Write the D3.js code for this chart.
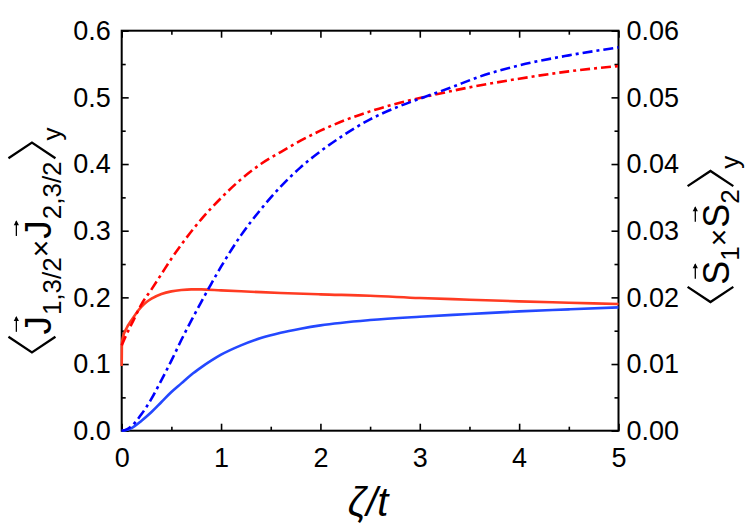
<!DOCTYPE html>
<html><head><meta charset="utf-8">
<script src="https://cdn.jsdelivr.net/npm/d3@7"></script>
<style>body{margin:0;background:#fff}svg{display:block}</style></head>
<body><svg id="c" width="747" height="528"></svg>
<script>
// ---- data ----
const xTicks = [0, 1, 2, 3, 4, 5];
const leftTicks = [0, 0.1, 0.2, 0.3, 0.4, 0.5, 0.6];
const rightTicks = [0, 0.01, 0.02, 0.03, 0.04, 0.05, 0.06];

// <J1 x J2>_y  (left axis), dash-dot lines
const redDashX = [0, 0.05, 0.1, 0.2, 0.3, 0.4, 0.5, 0.6, 0.8, 1.0, 1.2, 1.4, 1.6, 1.8, 2.0, 2.2, 2.5, 2.8, 3.0, 3.5, 4.0, 4.5, 5.0];
const redDashY = [0.128, 0.145, 0.16, 0.19, 0.212, 0.235, 0.258, 0.279, 0.317, 0.349, 0.377, 0.40, 0.418, 0.435, 0.45, 0.463, 0.479, 0.492, 0.499, 0.515, 0.528, 0.539, 0.547];
const blueDashX = [0, 0.05, 0.1, 0.2, 0.3, 0.4, 0.5, 0.6, 0.7, 0.8, 0.9, 1.0, 1.2, 1.4, 1.6, 1.8, 2.0, 2.2, 2.5, 2.8, 3.0, 3.3, 3.6, 4.0, 4.5, 5.0];
const blueDashY = [0, 0.002, 0.007, 0.025, 0.048, 0.076, 0.105, 0.136, 0.165, 0.193, 0.22, 0.246, 0.293, 0.332, 0.366, 0.395, 0.419, 0.44, 0.467, 0.487, 0.498, 0.514, 0.531, 0.548, 0.563, 0.575];

// <S1 x S2>_y  (right axis), solid lines
const redSolidX = [0, 0.002, 0.01, 0.05, 0.1, 0.15, 0.2, 0.25, 0.3, 0.4, 0.5, 0.6, 0.7, 0.8, 1.0, 1.3, 1.6, 2.0, 2.5, 3.0, 3.5, 4.0, 4.5, 5.0];
const redSolidY = [0.0097, 0.013, 0.0139, 0.0154, 0.0166, 0.0177, 0.0186, 0.0193, 0.0198, 0.0205, 0.0209, 0.0211, 0.0212, 0.0212, 0.02105, 0.02085, 0.02065, 0.02045, 0.02025, 0.0199, 0.01965, 0.0194, 0.0192, 0.0190];
const blueSolidX = [0, 0.05, 0.1, 0.2, 0.3, 0.4, 0.5, 0.6, 0.7, 0.8, 0.9, 1.0, 1.2, 1.4, 1.6, 1.8, 2.0, 2.5, 3.0, 3.5, 4.0, 4.5, 5.0];
const blueSolidY = [0, 0.0001, 0.0004, 0.0015, 0.0028, 0.0043, 0.0058, 0.0071, 0.0084, 0.0095, 0.0105, 0.0114, 0.0128, 0.0139, 0.0147, 0.0153, 0.0158, 0.0166, 0.0171, 0.0175, 0.0179, 0.0182, 0.0185];

// ---- layout ----
const L = 121.7, R = 618.5, T = 30.7, B = 430.7;
const FONT = "'Liberation Sans', Arial, sans-serif";
const svg = d3.select("#c");

const x = d3.scaleLinear().domain([0, 5]).range([L, R]);
const yL = d3.scaleLinear().domain([0, 0.6]).range([B, T]);
const yR = d3.scaleLinear().domain([0, 0.06]).range([B, T]);

function styleAxis(g) {
  g.select(".domain").remove();
  g.selectAll("line").attr("stroke", "#000").attr("stroke-width", 1.6);
  g.selectAll("text").attr("font-family", FONT).attr("font-size", 27).attr("fill", "#000");
}

const xMinor = d3.range(0.5, 5, 1);
const yLMinor = d3.range(0.05, 0.6, 0.1);
const yRMinor = d3.range(0.005, 0.06, 0.01);

// bottom
svg.append("g").attr("transform", `translate(0,${B})`)
  .call(d3.axisBottom(x).tickValues(xTicks).tickSize(-7).tickSizeOuter(0).tickPadding(17).tickFormat(d3.format("d")))
  .call(styleAxis);
svg.append("g").attr("transform", `translate(0,${B})`)
  .call(d3.axisBottom(x).tickValues(xMinor).tickSize(-4).tickSizeOuter(0).tickFormat(""))
  .call(styleAxis);
// top
svg.append("g").attr("transform", `translate(0,${T})`)
  .call(d3.axisTop(x).tickValues(xTicks).tickSize(-7).tickSizeOuter(0).tickFormat(""))
  .call(styleAxis);
svg.append("g").attr("transform", `translate(0,${T})`)
  .call(d3.axisTop(x).tickValues(xMinor).tickSize(-4).tickSizeOuter(0).tickFormat(""))
  .call(styleAxis);
// left
svg.append("g").attr("transform", `translate(${L},0)`)
  .call(d3.axisLeft(yL).tickValues(leftTicks).tickSize(-7).tickSizeOuter(0).tickPadding(11).tickFormat(d3.format(".1f")))
  .call(styleAxis);
svg.append("g").attr("transform", `translate(${L},0)`)
  .call(d3.axisLeft(yL).tickValues(yLMinor).tickSize(-4).tickSizeOuter(0).tickFormat(""))
  .call(styleAxis);
// right
svg.append("g").attr("transform", `translate(${R},0)`)
  .call(d3.axisRight(yR).tickValues(rightTicks).tickSize(-7).tickSizeOuter(0).tickPadding(8).tickFormat(d3.format(".2f")))
  .call(styleAxis);
svg.append("g").attr("transform", `translate(${R},0)`)
  .call(d3.axisRight(yR).tickValues(yRMinor).tickSize(-4).tickSizeOuter(0).tickFormat(""))
  .call(styleAxis);

// frame
svg.append("rect").attr("x", L).attr("y", T).attr("width", R - L).attr("height", B - T)
  .attr("fill", "none").attr("stroke", "#000").attr("stroke-width", 2);

// ---- curves ----
function drawLine(xs, ys, ys_scale, color, dash) {
  const pts = xs.map((v, i) => [v, ys[i]]);
  const line = d3.line().x(d => x(d[0])).y(d => ys_scale(d[1])).curve(d3.curveMonotoneX);
  svg.append("path").datum(pts).attr("d", line)
    .attr("fill", "none").attr("stroke", color).attr("stroke-width", 2.6)
    .attr("stroke-dasharray", dash || null);
}
drawLine(blueSolidX, blueSolidY, yR, "#2448ff");
drawLine(redSolidX, redSolidY, yR, "#ff3b22");
drawLine(redDashX, redDashY, yL, "#ff0000", "10,4,3,4");
drawLine(blueDashX, blueDashY, yL, "#0000ff", "10,4,3,4");

// ---- axis titles ----
svg.append("text").attr("x", (L + R) / 2 - 2).attr("y", 516).attr("text-anchor", "middle")
  .attr("font-family", FONT).attr("font-size", 40).attr("font-style", "italic").text("ζ/t");

// build a rotated composite label: parts drawn along baseline y=0
function buildLabel(cx, cy, parts, main) {
  const g = svg.append("g");
  let cursor = 0;
  const cap = main * 0.716;
  parts.forEach(p => {
    if (p.bracket) {
      const w = main * 0.42, top = -main * 1.15, bot = main * 0.12, mid = (top + bot) / 2;
      const pad = main * 0.06;
      const d = p.bracket === "<"
        ? `M${cursor + pad + w},${top} L${cursor + pad},${mid} L${cursor + pad + w},${bot}`
        : `M${cursor + pad},${top} L${cursor + pad + w},${mid} L${cursor + pad},${bot}`;
      g.append("path").attr("d", d).attr("fill", "none").attr("stroke", "#000").attr("stroke-width", 2.3);
      cursor += w + 2 * pad;
      return;
    }
    const t = g.append("text").attr("x", cursor).attr("y", p.shift || 0)
      .attr("font-family", FONT).attr("font-size", p.size).text(p.text);
    const w = t.node().getComputedTextLength();
    if (p.arrow) {
      const ac = cursor + w * 0.55, ay = -cap - main * 0.22, hl = main * 0.2;
      g.append("path").attr("d", `M${ac - hl},${ay} L${ac + hl},${ay}`).attr("stroke", "#000").attr("stroke-width", 1.3);
      g.append("path").attr("d", `M${ac + hl + 1},${ay} L${ac + hl - 4},${ay - 2.6} L${ac + hl - 4},${ay + 2.6} Z`).attr("fill", "#000");
    }
    cursor += w + (p.gap || 0);
  });
  const total = cursor;
  g.attr("transform", `translate(${cx},${cy}) rotate(-90) translate(${-total / 2},0)`);
  return g;
}

buildLabel(51, 241, [
  { bracket: "<" },
  { text: "J", size: 37, arrow: true, gap: 1 },
  { text: "1,3/2", size: 26, shift: 10 },
  { text: "×", size: 30, gap: 1 },
  { text: "J", size: 37, arrow: true, gap: 1 },
  { text: "2,3/2", size: 26, shift: 10, gap: 1 },
  { bracket: ">" },
  { text: "y", size: 26, shift: 10 }
], 37);

buildLabel(729, 230, [
  { bracket: "<" },
  { text: "S", size: 36, arrow: true },
  { text: "1", size: 26, shift: 10 },
  { text: "×", size: 30, gap: 1 },
  { text: "S", size: 36, arrow: true },
  { text: "2", size: 26, shift: 10, gap: 1 },
  { bracket: ">" },
  { text: "y", size: 26, shift: 10 }
], 36);
</script>
</body></html>
